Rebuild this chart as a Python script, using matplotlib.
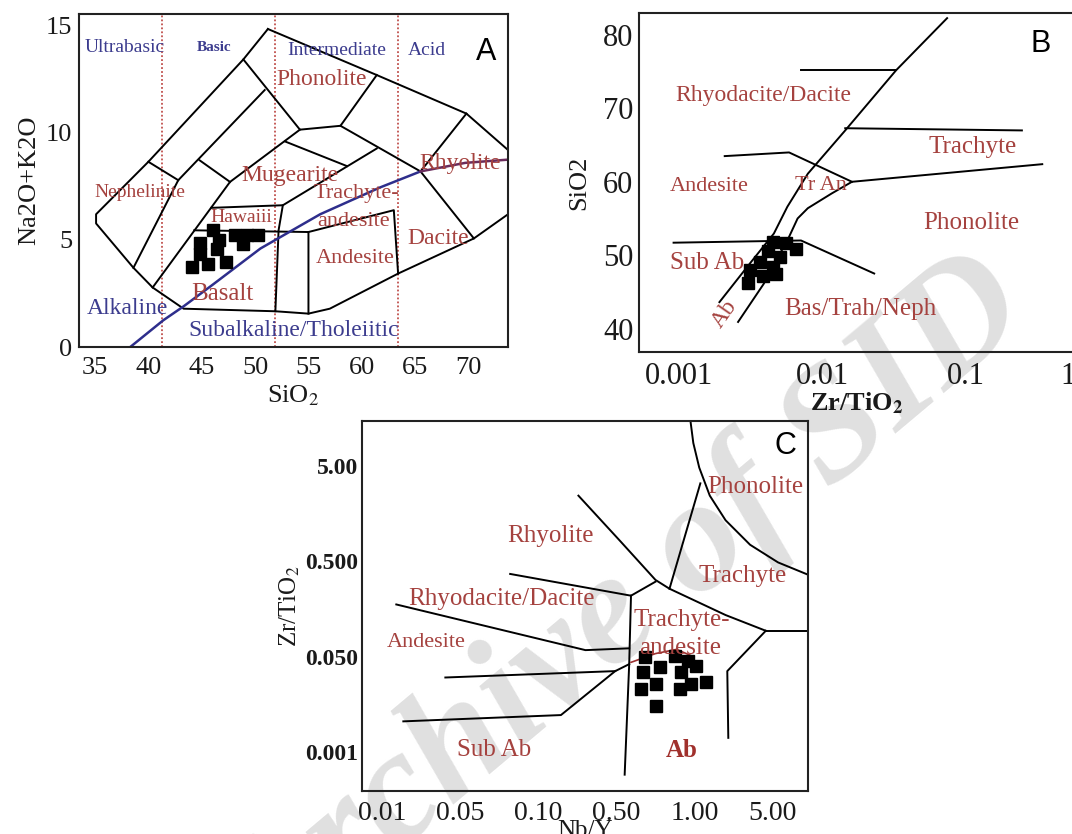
import matplotlib.pyplot as plt

plt.rcParams['font.family'] = ['Liberation Serif', 'DejaVu Serif']
plt.rcParams['mathtext.fontset'] = 'stix'
plt.rcParams['axes.linewidth'] = 1.5

RED = '#a5423f'
NAVY = '#3c3c8e'
INK = '#1a1a1a'

# ---------------- A: TAS diagram (Na2O+K2O vs SiO2) ----------------
a_outer_x = [51.2, 48.9, 40.0, 35.1, 35.1, 38.6, 40.4, 43.3, 51.9, 55.0, 57.0, 63.4, 70.5, 73.7]
a_outer_y = [14.85, 13.43, 8.65, 6.2, 5.77, 3.7, 2.78, 1.79, 1.67, 1.56, 1.79, 3.43, 5.07, 6.2]
a_top_x = [51.2, 61.4, 69.8, 73.7]
a_top_y = [14.85, 12.7, 10.9, 9.2]
a_fields = [
    ([48.9, 54.2, 58.0, 61.4], [13.43, 10.15, 10.33, 12.7]),
    ([58.0, 65.5, 69.8], [10.33, 8.2, 10.9]),
    ([65.5, 70.5], [8.2, 5.07]),
    ([40.0, 42.8], [8.65, 7.79]),
    ([50.9, 42.8, 38.6], [12.0, 7.79, 3.7]),
    ([44.8, 47.65], [8.72, 7.71]),
    ([54.2, 47.65, 40.4], [10.15, 7.71, 2.78]),
    ([52.8, 58.6], [9.6, 8.45]),
    ([52.6, 61.4], [6.62, 9.27]),
    ([45.9, 52.6, 52.2, 51.9], [6.5, 6.62, 5.45, 1.67]),
    ([44.3, 55.0, 55.0], [5.45, 5.37, 1.56]),
    ([55.0, 63.0, 63.4], [5.37, 6.39, 3.43]),
]
a_class_x = [41.3, 51.9, 63.4]
a_alk_x = [38.3, 41.4, 43.3, 46.0, 50.5, 56.1, 61.7, 65.5]
a_alk_y = [0.0, 1.25, 1.9, 2.9, 4.6, 6.2, 7.45, 8.2]
a_alk2_x = [65.5, 69.7, 73.7]
a_alk2_y = [8.2, 8.6, 8.75]
a_sample_x = [44.8, 46.1, 46.6, 48.1, 49.2, 50.3, 48.9, 44.8, 44.1, 45.6, 47.3, 46.4]
a_sample_y = [4.84, 5.45, 4.99, 5.22, 5.22, 5.22, 4.83, 4.36, 3.74, 3.9, 3.97, 4.6]
a_rock = [('Phonolite', 56.2, 12.5, 17), ('Mugearite', 53.3, 8.0, 17),
          ('Nephelinite', 39.2, 7.2, 14), ('Trachyte-', 59.5, 7.17, 16),
          ('andesite', 59.2, 5.84, 16), ('Hawaiii', 48.75, 6.05, 14),
          ('Rhyolite', 69.2, 8.57, 17), ('Dacite', 67.2, 5.07, 17),
          ('Andesite', 59.4, 4.13, 16), ('Basalt', 46.9, 2.49, 18)]
a_series = [('Alkaline', 38.0, 1.79, 17), ('Subalkaline/Tholeiitic', 53.6, 0.78, 17)]
a_class = [('Ultrabasic', 37.8, 14.0, 14), ('Basic', 46.2, 14.0, 11),
           ('Intermediate', 57.65, 13.86, 14), ('Acid', 66.1, 13.83, 14)]

# ---------------- B: SiO2 vs Zr/TiO2 ----------------
b_lines = [
    ([0.0741, 0.0327, 0.01445, 0.00793, 0.00571, 0.0046, 0.00314, 0.00192],
     [82.3, 75.2, 67.0, 61.1, 56.6, 52.95, 48.9, 43.6]),
    ([0.341, 0.0161, 0.01161, 0.00793, 0.00673, 0.00587, 0.00391, 0.00259],
     [62.4, 60.0, 58.4, 56.4, 55.0, 52.5, 46.1, 40.9]),
    ([0.00711, 0.0327], [75.2, 75.2]),
    ([0.01445, 0.246], [67.3, 67.0]),
    ([0.00209, 0.00587, 0.0161], [63.5, 64.0, 60.0]),
    ([0.00092, 0.00711, 0.023], [51.7, 52.0, 47.5]),
]
b_sample_x = [0.00454, 0.00562, 0.00661, 0.00419, 0.00506, 0.00366, 0.00454, 0.00312, 0.00304, 0.00386, 0.00479]
b_sample_y = [51.8, 51.6, 50.9, 50.5, 49.8, 49.1, 48.4, 48.0, 46.2, 47.1, 47.5]
b_rock = [('Rhyodacite/Dacite', 0.00391, 71.8, 17), ('Trachyte', 0.1114, 64.8, 18),
          ('Andesite', 0.00163, 59.4, 16), ('Tr An', 0.00986, 59.5, 16),
          ('Phonolite', 0.1086, 54.4, 18), ('Bas/Trah/Neph', 0.01845, 42.7, 18)]
b_xticks = [0.001, 0.01, 0.1]
b_xlabels = ['0.001', '0.01', '0.1']
b_yticks = [40, 50, 60, 70, 80]

# ---------------- C: Zr/TiO2 vs Nb/Y (ticks evenly spaced) ----------------
c_xlabels = ['0.01', '0.05', '0.10', '0.50', '1.00', '5.00']
c_ylabels = ['0.001', '0.050', '0.500', '5.00']
c_lines = [
    ([3.946, 3.982, 4.058, 4.193, 4.395, 4.709, 5.067, 5.448],
     [3.467, 3.239, 2.981, 2.687, 2.429, 2.172, 1.987, 1.859]),
    ([4.072, 3.677], [2.816, 1.711]),
    ([2.511, 3.049, 3.498, 3.677, 4.395, 4.91], [2.687, 2.208, 1.803, 1.711, 1.435, 1.27]),
    ([4.91, 5.448], [1.27, 1.27]),
    ([4.91, 4.417, 4.43], [1.27, 0.847, 0.147]),
    ([1.637, 3.184, 3.498], [1.866, 1.638, 1.785]),
    ([3.184, 3.161, 3.103], [1.638, 0.92, -0.239]),
    ([0.179, 2.601, 3.161], [1.546, 1.067, 1.086]),
    ([0.807, 2.982, 3.161], [0.78, 0.847, 0.92]),
    ([0.269, 2.287, 2.982], [0.32, 0.386, 0.847]),
]
c_red_x = [3.184, 3.498, 3.767, 3.946]
c_red_y = [0.939, 1.031, 1.075, 1.012]
c_sample_x = [3.359, 3.743, 3.913, 4.02, 3.338, 3.551, 3.829, 4.148, 3.317, 3.509, 3.807, 3.957, 3.509]
c_sample_y = [0.992, 1.01, 0.958, 0.905, 0.835, 0.887, 0.835, 0.73, 0.661, 0.713, 0.661, 0.713, 0.485]
c_rock = [('Phonolite', 4.776, 2.779, 18), ('Rhyolite', 2.152, 2.264, 18),
          ('Trachyte', 4.619, 1.84, 18), ('Rhyodacite/Dacite', 1.525, 1.601, 18),
          ('Trachyte-', 3.834, 1.38, 18), ('andesite', 3.812, 1.086, 18),
          ('Andesite', 0.561, 1.148, 16), ('Sub Ab', 1.435, 0.018, 18)]

fig = plt.figure(figsize=(10.72, 8.34), dpi=100)

# watermark of the source archive, behind the panels
fig.text(0.585, 0.264, 'Archive of SID', rotation=40, fontsize=116, fontweight='bold',
         fontstyle='italic', color='#e0e0e0', ha='center', va='center', zorder=-5)

def frame(ax):
    ax.set_facecolor('none')
    ax.tick_params(length=0, colors=INK)
    for s in ax.spines.values():
        s.set_color('#222222')

# ---- panel A ----
ax = fig.add_axes([0.0737, 0.5839, 0.4002, 0.3993])
frame(ax)
ax.set_xlim(33.5, 73.7)
ax.set_ylim(0, 15.55)
for x in a_class_x:
    ax.axvline(x, color='#c0504d', ls=(0, (1, 1.2)), lw=1.3)
ax.plot(a_outer_x, a_outer_y, color='black', lw=1.4)
ax.plot(a_top_x, a_top_y, color='black', lw=1.4)
for xs, ys in a_fields:
    ax.plot(xs, ys, color='black', lw=1.4)
ax.plot(a_alk_x, a_alk_y, color='#2e2e8c', lw=1.8)
ax.plot(a_alk2_x, a_alk2_y, color='#6a2c5c', lw=1.8)
ax.plot(a_sample_x, a_sample_y, 's', color='black', ms=8)
for t, x, y, fs in a_rock:
    ax.text(x, y, t, color=RED, fontsize=fs, ha='center', va='center', clip_on=True)
for t, x, y, fs in a_series:
    ax.text(x, y, t, color=NAVY, fontsize=fs, ha='center', va='center')
for t, x, y, fs in a_class:
    ax.text(x, y, t, color=NAVY, fontsize=fs, ha='center', va='center',
            fontweight='bold' if t == 'Basic' else 'normal')
ax.text(0.948, 0.887, 'A', transform=ax.transAxes, fontsize=22, family='Liberation Sans',
        ha='center', va='center')
ax.set_xticks(range(35, 71, 5))
ax.set_yticks([0, 5, 10, 15])
ax.tick_params(axis='x', labelsize=19, pad=7)
ax.tick_params(axis='y', labelsize=19, pad=5)
ax.set_xlabel('SiO$_2$', fontsize=19, labelpad=3, color=INK)
ax.set_ylabel('Na2O+K2O', fontsize=19, labelpad=4, color=INK)

# ---- panel B ----
ax = fig.add_axes([0.5961, 0.5779, 0.4067, 0.4065])
frame(ax)
ax.set_xscale('log')
ax.set_xlim(10 ** -3.277, 10 ** -0.239)
ax.set_ylim(36.8, 83.0)
for xs, ys in b_lines:
    ax.plot(xs, ys, color='black', lw=1.4)
ax.plot(b_sample_x, b_sample_y, 's', color='black', ms=8.5)
for t, x, y, fs in b_rock:
    ax.text(x, y, t, color=RED, fontsize=fs, ha='center', va='center')
ax.text(0.000873, 48.9, 'Sub Ab', color=RED, fontsize=18, ha='left', va='center')
ax.text(0.00209, 42.0, 'Ab', color=RED, fontsize=17, ha='center', va='center', rotation=55)
ax.text(0.921, 0.909, 'B', transform=ax.transAxes, fontsize=22, family='Liberation Sans',
        ha='center', va='center')
ax.set_xticks(b_xticks)
ax.set_xticklabels(b_xlabels)
ax.minorticks_off()
ax.set_yticks(b_yticks)
ax.tick_params(axis='x', labelsize=22, pad=7, which='both', length=0)
ax.tick_params(axis='y', labelsize=22, pad=4)
ax.text(0.984, -0.03, '1', transform=ax.transAxes, fontsize=22, ha='center', va='top', color=INK)
ax.set_xlabel('Zr/TiO$_\\mathbf{2}$', fontsize=19, fontweight='bold', labelpad=0, color=INK)
ax.set_ylabel('SiO2', fontsize=19, labelpad=9, color=INK)

# ---- panel C ----
ax = fig.add_axes([0.3377, 0.0516, 0.4160, 0.4436])
frame(ax)
ax.set_xlim(-0.26, 5.45)
ax.set_ylim(-0.41, 3.47)
for xs, ys in c_lines:
    ax.plot(xs, ys, color='black', lw=1.4)
ax.plot(c_red_x, c_red_y, color='#9b2f2f', lw=1.2)
ax.plot(c_sample_x, c_sample_y, 's', color='black', ms=9)
for t, x, y, fs in c_rock:
    ax.text(x, y, t, color=RED, fontsize=fs, ha='center', va='center')
ax.text(3.834, 0.018, 'Ab', color='#a0302c', fontsize=18, fontweight='bold', ha='center', va='center')
ax.text(0.95, 0.932, 'C', transform=ax.transAxes, fontsize=22, family='Liberation Sans',
        ha='center', va='center')
ax.set_xticks(range(len(c_xlabels)))
ax.set_xticklabels(c_xlabels)
ax.set_yticks(range(len(c_ylabels)))
ax.set_yticklabels(c_ylabels, fontweight='bold')
ax.tick_params(axis='x', labelsize=20, pad=7)
ax.tick_params(axis='y', labelsize=17, pad=3)
ax.set_xlabel('Nb/Y', fontsize=18, labelpad=-4, color=INK)
ax.set_ylabel('Zr/TiO$_2$', fontsize=18, labelpad=2, color=INK)

fig.savefig('out.png', dpi=100)
